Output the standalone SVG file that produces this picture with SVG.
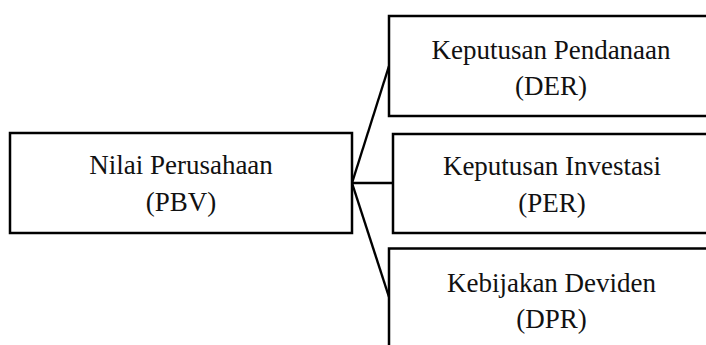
<svg xmlns="http://www.w3.org/2000/svg" width="706" height="345" viewBox="0 0 706 345">
<style>
.box{fill:#fff;stroke:#000;stroke-width:2.5}
.lbl{font-family:"Liberation Serif","Times New Roman",serif;font-size:27px;fill:#111;text-anchor:middle}
.con{stroke:#000;stroke-width:2.4;fill:none}
</style>
<rect width="706" height="345" fill="#fff"/>
<g id="connectors">
<line class="con" x1="352" y1="183" x2="389" y2="66"/>
<line class="con" x1="352" y1="183" x2="393" y2="183"/>
<line class="con" x1="352" y1="183" x2="389" y2="297"/>
</g>
<g id="nilai">
<rect class="box" x="10" y="133" width="342" height="100"/>
<text class="lbl" x="181" y="173.5">Nilai Perusahaan</text>
<text class="lbl" x="181" y="211">(PBV)</text>
</g>
<g id="pendanaan">
<rect class="box" x="389" y="16" width="330" height="100"/>
<text class="lbl" x="551" y="58.5">Keputusan Pendanaan</text>
<text class="lbl" x="551" y="94.5">(DER)</text>
</g>
<g id="investasi">
<rect class="box" x="393" y="134" width="330" height="99"/>
<text class="lbl" x="552" y="175">Keputusan Investasi</text>
<text class="lbl" x="552" y="211.5">(PER)</text>
</g>
<g id="deviden">
<rect class="box" x="389" y="248.5" width="330" height="120"/>
<text class="lbl" x="551.5" y="291.5">Kebijakan Deviden</text>
<text class="lbl" x="551.5" y="327.5">(DPR)</text>
</g>
</svg>
